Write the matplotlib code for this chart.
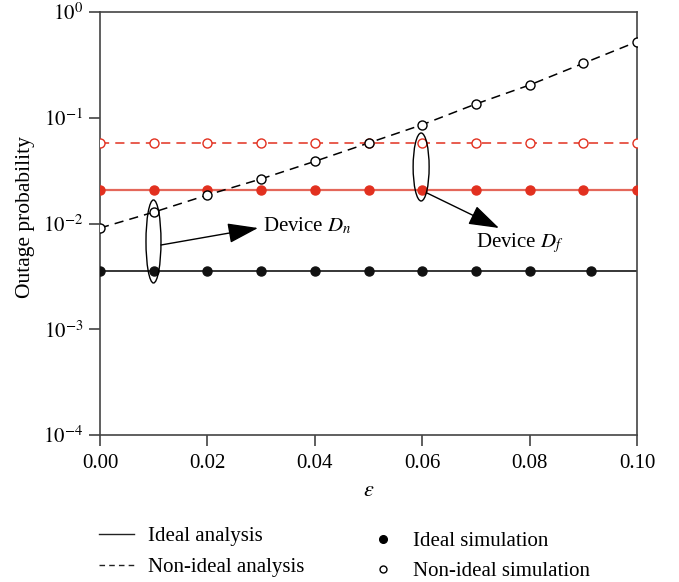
import numpy as np
import matplotlib
matplotlib.use("Agg")
import matplotlib.pyplot as plt
from matplotlib.patches import Ellipse
from matplotlib.lines import Line2D

plt.rcParams['font.family'] = ['Liberation Serif', 'DejaVu Serif']
plt.rcParams['mathtext.fontset'] = 'stix'

# ---- data ----
eps = [0.00, 0.01, 0.02, 0.03, 0.04, 0.05, 0.06, 0.07, 0.08, 0.09, 0.10]
eps_ideal_n_sim = [0.00, 0.01, 0.02, 0.03, 0.04, 0.05, 0.06, 0.07, 0.08, 0.0915]
ideal_n = 3.56e-3
ideal_f = 2.07e-2
nonideal_f = 5.77e-2
nonideal_n = [0.00906, 0.0128, 0.0186, 0.0264, 0.0387, 0.0577, 0.0859, 0.135, 0.204, 0.327, 0.524]
xticks = [0.00, 0.02, 0.04, 0.06, 0.08, 0.10]
yticks = [1e-4, 1e-3, 1e-2, 1e-1, 1e0]
ytick_labels = [r'$10^{-4}$', r'$10^{-3}$', r'$10^{-2}$', r'$10^{-1}$', r'$10^{0}$']

RED = '#E2301F'
RED_LINE = '#E4675A'
FS = 15

fig = plt.figure(figsize=(6.79, 5.82), dpi=100)
ax = fig.add_axes([100/679, 1 - 435/582, 537/679, 423/582])

ms = 6.5
# Ideal analysis lines
ax.plot([eps[0], eps[-1]], [ideal_n, ideal_n], color='black', lw=1.1, zorder=2)
ax.plot([eps[0], eps[-1]], [ideal_f, ideal_f], color=RED_LINE, lw=1.6, zorder=2)
# Non-ideal analysis lines
ax.plot([eps[0], eps[-1]], [nonideal_f, nonideal_f], color=RED, lw=1.1, ls=(0, (6, 4)), zorder=2)
ax.plot(eps, nonideal_n, color='black', lw=1.1, ls=(0, (6, 4)), zorder=2)

# Simulations
ax.plot(eps_ideal_n_sim, [ideal_n] * len(eps_ideal_n_sim), 'o', color='#111111', ms=ms, zorder=3)
ax.plot(eps, [ideal_f] * len(eps), 'o', color=RED, ms=ms, zorder=3)
ax.plot(eps, [nonideal_f] * len(eps), 'o', mfc='white', mec=RED, mew=1.0, ms=ms, zorder=3)
ax.plot(eps, nonideal_n, 'o', mfc='white', mec='black', mew=1.0, ms=ms, zorder=3)

ax.set_yscale('log')
ax.set_xlim(0, 0.10)
ax.set_ylim(1e-4, 1e0)
ax.set_xticks(xticks)
ax.set_xticklabels([f'{t:.2f}' for t in xticks])
ax.set_yticks(yticks)
ax.set_yticklabels(ytick_labels)
ax.yaxis.set_minor_locator(matplotlib.ticker.NullLocator())
ax.tick_params(direction='out', length=8, width=1.1, labelsize=FS, color='#333333', pad=4)
ax.tick_params(axis='x', pad=6)
for s in ax.spines.values():
    s.set_color('#444444')
    s.set_linewidth(1.2)
ax.set_xlabel(r'$\varepsilon$', fontsize=16, labelpad=6)
ax.set_ylabel('Outage probability', fontsize=15.5)
ax.yaxis.set_label_coords(-0.121, 0.515)

# Annotations (ellipses in axes fraction)
c1 = (0.0996, 0.4575)
c2 = (0.598, 0.6336)
ax.add_patch(Ellipse(c1, 15/537, 83/423, transform=ax.transAxes, fill=False, ec='black', lw=1.0, zorder=4))
ax.add_patch(Ellipse(c2, 16/537, 68/423, transform=ax.transAxes, fill=False, ec='black', lw=1.0, zorder=4))

ap = dict(arrowstyle='-|>,head_length=1.0,head_width=0.33', mutation_scale=19, lw=1.0, color='black', shrinkA=0, shrinkB=0)
ax.annotate('', xy=((258-100)/537, (435-228)/423), xytext=((161-100)/537, (435-245)/423),
            xycoords='axes fraction', textcoords='axes fraction', arrowprops=ap)
ax.annotate('', xy=((499-100)/537, (435-228)/423), xytext=((427-100)/537, (435-193)/423),
            xycoords='axes fraction', textcoords='axes fraction', arrowprops=ap)
ax.text((263-100)/537, (435-226)/423, r'Device $D_n$', transform=ax.transAxes, fontsize=FS, va='center', ha='left')
ax.text((476-100)/537, (435-243)/423, r'Device $D_f$', transform=ax.transAxes, fontsize=FS, va='center', ha='left')

# Legends
h1 = [Line2D([], [], color='#222222', lw=1.0), Line2D([], [], color='#222222', lw=1.0, ls=(0, (4, 3)))]
leg1 = fig.legend(h1, ['Ideal analysis', 'Non-ideal analysis'], loc='upper left',
                  bbox_to_anchor=(80/679, 1 - 508/582), frameon=False, fontsize=FS,
                  handlelength=1.68, handletextpad=0.67, labelspacing=0.54)
h2 = [Line2D([], [], ls='none', marker='o', color='black', ms=5.5),
      Line2D([], [], ls='none', marker='o', mfc='white', mec='black', ms=5)]
leg2 = fig.legend(h2, ['Ideal simulation', 'Non-ideal simulation'], loc='upper left',
                  bbox_to_anchor=(356/679, 1 - 513/582), frameon=False, fontsize=FS,
                  handlelength=0.8, handletextpad=1.04, labelspacing=0.5)

fig.savefig('out.png', dpi=100)
